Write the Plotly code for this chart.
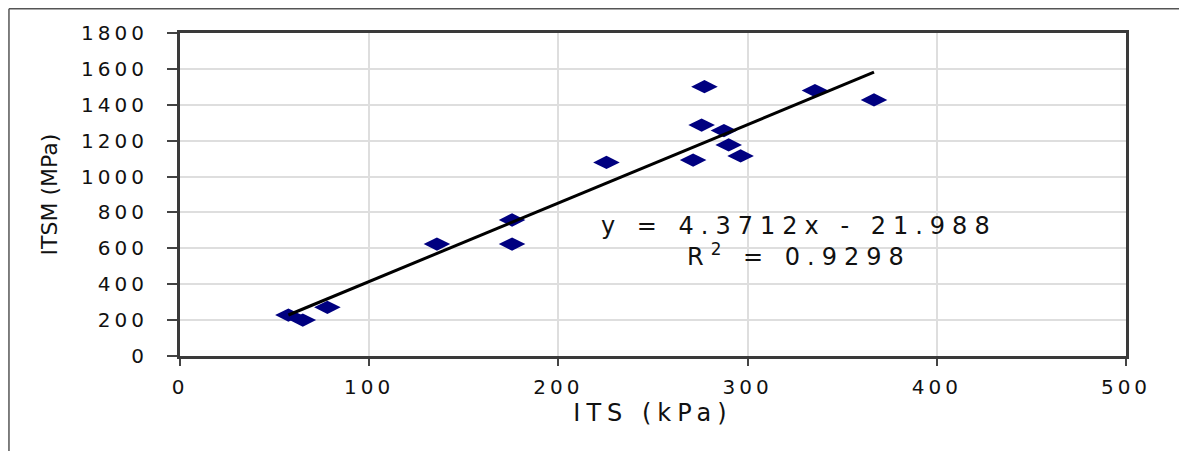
import plotly.graph_objects as go

# ---- data ----
its_kpa = [57.3, 64.9, 77.9, 135.8, 175.5, 175.5, 225.4, 277.2, 275.7, 271.2,
           287.5, 290.0, 296.3, 335.6, 366.8]
itsm_mpa = [228, 200, 271, 624, 758, 624, 1079, 1501, 1287, 1092,
            1256, 1176, 1115, 1479, 1427]
slope = 4.3712
intercept = -21.988
r_squared = 0.9298
x_ticks = [0, 100, 200, 300, 400, 500]
y_ticks = [0, 200, 400, 600, 800, 1000, 1200, 1400, 1600, 1800]
x_title = "ITS (kPa)"
y_title = "ITSM (MPa)"

FONT = "DejaVu Sans"
TXT = "#111111"


def spaced(s, px):
    return f'<span style="letter-spacing:{px}px">{s}</span>'


trend_x = [min(its_kpa), max(its_kpa)]
trend_y = [slope * v + intercept for v in trend_x]

fig = go.Figure()
fig.add_trace(go.Scatter(
    x=its_kpa, y=itsm_mpa, mode="markers",
    marker=dict(symbol="diamond-wide", size=19, color="#000080",
                line=dict(width=0)),
    showlegend=False, hoverinfo="x+y"))
fig.add_trace(go.Scatter(
    x=trend_x, y=trend_y, mode="lines",
    line=dict(color="#000000", width=3),
    showlegend=False, hoverinfo="skip"))

eq_text = f"y = {slope}x - {abs(intercept)}"
r2_text = f"R<sup>2</sup> = {r_squared}"
fig.add_annotation(x=327, y=725, xref="x", yref="y", showarrow=False,
                   text=spaced(eq_text, 7),
                   font=dict(family=FONT, size=24, color=TXT))
fig.add_annotation(x=327, y=562, xref="x", yref="y", showarrow=False,
                   text=spaced(r2_text, 7),
                   font=dict(family=FONT, size=24, color=TXT))

fig.update_xaxes(
    range=[0, 500], tickvals=x_ticks,
    ticktext=[spaced(str(t), 4) for t in x_ticks],
    showgrid=True, gridcolor="#dedede", gridwidth=1.5,
    showline=True, linecolor="#3a3a3a", linewidth=3, mirror=True,
    ticks="outside", ticklen=7, tickwidth=2, tickcolor="#444444",
    ticklabelstandoff=4,
    tickfont=dict(family=FONT, size=20, color=TXT),
    title=dict(text=spaced(x_title, 6), standoff=2,
               font=dict(family=FONT, size=24, color=TXT)),
    zeroline=False)
fig.update_yaxes(
    range=[0, 1800], tickvals=y_ticks,
    ticktext=[spaced(str(t), 4) for t in y_ticks],
    showgrid=True, gridcolor="#dedede", gridwidth=1.5,
    showline=True, linecolor="#3a3a3a", linewidth=3, mirror=True,
    ticks="outside", ticklen=10, tickwidth=2, tickcolor="#444444",
    ticklabelstandoff=15,
    tickfont=dict(family=FONT, size=20, color=TXT),
    title=dict(text=y_title, standoff=18,
               font=dict(family=FONT, size=22, color=TXT)),
    zeroline=False)

# outer frame (top and left edges visible in the reference)
fig.add_shape(type="line", xref="paper", yref="paper",
              x0=-0.1808, x1=1.07, y0=1.0751, y1=1.0751,
              line=dict(color="#555555", width=1.5))
fig.add_shape(type="line", xref="paper", yref="paper",
              x0=-0.1808, x1=-0.1808, y0=1.0751, y1=-0.3,
              line=dict(color="#555555", width=1.5))

# the page adds an 8px body margin: the figure is 8px smaller and
# the left/top margins are trimmed so the plot area sits where the reference has it
fig.update_layout(
    width=1179, height=443,
    margin=dict(l=172, r=61, t=25, b=95, autoexpand=False),
    paper_bgcolor="white", plot_bgcolor="white",
    font=dict(family=FONT, color=TXT))

fig.write_html("out.html")
